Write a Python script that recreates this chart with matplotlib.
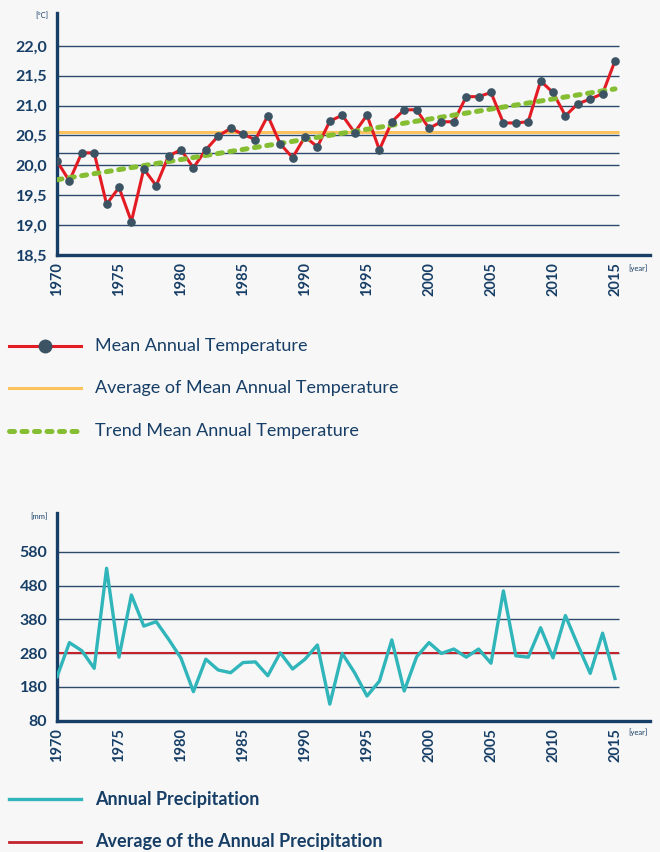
import matplotlib
matplotlib.use("Agg")
import matplotlib.pyplot as plt
from matplotlib.lines import Line2D
from matplotlib.ticker import FixedLocator, FuncFormatter

# ---------------- data ----------------
years = list(range(1970, 2016))
temp_mean = [20.07, 19.74, 20.21, 20.21, 19.35, 19.63, 19.06, 19.94, 19.66, 20.16,
             20.26, 19.96, 20.26, 20.49, 20.62, 20.52, 20.43, 20.83, 20.36, 20.13,
             20.48, 20.31, 20.74, 20.84, 20.55, 20.84, 20.26, 20.73, 20.93, 20.93,
             20.62, 20.73, 20.73, 21.15, 21.15, 21.22, 20.71, 20.71, 20.73, 21.41,
             21.22, 20.83, 21.03, 21.11, 21.20, 21.75]
temp_average = 20.56
trend_years = [1970, 2015]
trend_values = [19.76, 21.28]
temp_grid = [22.0, 21.5, 21.0, 20.5, 20.2, 20.0, 19.5, 19.0]
temp_ticks = [18.5, 19.0, 19.5, 20.0, 20.5, 21.0, 21.5, 22.0]

precip = [210, 311, 287, 235, 531, 268, 452, 360, 373, 321,
          265, 166, 262, 230, 222, 252, 254, 213, 281, 233,
          262, 304, 129, 279, 222, 153, 197, 319, 168, 269,
          311, 279, 292, 268, 292, 250, 464, 272, 268, 355,
          266, 391, 304, 220, 339, 205]
precip_average = 281
precip_ticks = [80, 180, 280, 380, 480, 580]
precip_grid = [180, 280, 380, 480, 580]

year_ticks = list(range(1970, 2016, 5))

legend_top = ["Mean Annual Temperature", "Average of Mean Annual Temperature",
              "Trend Mean Annual Temperature"]
legend_bottom = ["Annual Precipitation", "Average of the Annual Precipitation"]

# ---------------- style ----------------
NAVY = "#173e66"
GRID = "#2b4a6c"
RED = "#e31b23"
MARK = "#3b5363"
ORANGE = "#fbc25e"
GREEN = "#86be33"
TEAL = "#2fb5ba"
DRED = "#c2232d"
BG = "#f7f7f7"

FONT = "Lato"
plt.rcParams["font.family"] = [FONT, "DejaVu Sans"]

W, H = 660, 852
fig = plt.figure(figsize=(W / 100, H / 100), dpi=100, facecolor=BG)

PX_YEAR = 12.4
LEFT = 57
RIGHT = 650
x_max = 1970 + (RIGHT - LEFT) / PX_YEAR
grid_end = 2015.3
TREND_DASH = (1.0, 1.5)


def ax_rect(top, bottom):
    return [LEFT / W, 1 - bottom / H, (RIGHT - LEFT) / W, (bottom - top) / H]


def style_axes(ax, ticks, fmt):
    ax.set_facecolor("none")
    for s in ["top", "right"]:
        ax.spines[s].set_visible(False)
    for s in ["left", "bottom"]:
        ax.spines[s].set_color(NAVY)
        ax.spines[s].set_linewidth(2.4)
    ax.set_xlim(1970, x_max)
    ax.xaxis.set_major_locator(FixedLocator(year_ticks))
    ax.yaxis.set_major_locator(FixedLocator(ticks))
    ax.yaxis.set_major_formatter(FuncFormatter(fmt))
    ax.tick_params(axis="both", length=0, colors=NAVY)
    ax.tick_params(axis="y", pad=7, labelsize=11.5)
    ax.tick_params(axis="x", pad=5, labelsize=10.5, labelrotation=90)
    for lab in ax.get_xticklabels() + ax.get_yticklabels():
        lab.set_fontweight("bold")
        lab.set_color(NAVY)


# ---------------- top chart ----------------
ax1 = fig.add_axes(ax_rect(13, 255))
ax1.set_ylim(18.5, 22.0 + 33 / 60)
style_axes(ax1, temp_ticks, lambda v, p: f"{v:.1f}".replace(".", ","))
ax1.hlines(temp_grid, 1970, grid_end, color=GRID, lw=1.0, zorder=1)
ax1.hlines([temp_average], 1970, grid_end, color=ORANGE, lw=2.2, zorder=2)
ax1.plot(years, temp_mean, color=RED, lw=2.2, zorder=3, solid_joinstyle="miter")
ax1.plot(trend_years, trend_values, color=GREEN, lw=3.6, zorder=4,
         dashes=TREND_DASH, dash_capstyle="round")
ax1.plot(years, temp_mean, ls="none", marker="o", ms=5.2, color=MARK, zorder=5)

fig.text(48 / W, 1 - 16 / H, "[°C]", ha="right", va="center", fontsize=5.5, color=NAVY)
fig.text(628 / W, 1 - 268 / H, "[year]", ha="left", va="center", fontsize=5.5, color=NAVY)

# ---------------- bottom chart ----------------
ax2 = fig.add_axes(ax_rect(513, 720.7))
ax2.set_ylim(80, 80 + (720.7 - 513) / 0.338)
style_axes(ax2, precip_ticks, lambda v, p: f"{int(v)}")
ax2.hlines(precip_grid, 1970, grid_end, color=GRID, lw=1.0, zorder=1)
ax2.hlines([precip_average], 1970, grid_end, color=DRED, lw=1.5, zorder=2)
ax2.plot(years, precip, color=TEAL, lw=2.4, zorder=3)

fig.text(48 / W, 1 - 517 / H, "[mm]", ha="right", va="center", fontsize=5.5, color=NAVY)
fig.text(628 / W, 1 - 732 / H, "[year]", ha="left", va="center", fontsize=5.5, color=NAVY)


# ---------------- legends ----------------
def leg_line(y, **kw):
    fig.add_artist(Line2D([9 / W, 81 / W], [1 - y / H, 1 - y / H], transform=fig.transFigure, **kw))


def leg_text(y, s, weight="normal"):
    fig.text(95 / W, 1 - y / H, s, ha="left", va="center", fontsize=13, color=NAVY,
             fontweight=weight)


leg_line(346, color=RED, lw=2.2)
fig.add_artist(Line2D([45 / W], [1 - 346 / H], transform=fig.transFigure, marker="o",
                      ms=9, color=MARK, ls="none"))
leg_text(346, legend_top[0])
leg_line(388, color=ORANGE, lw=2.2)
leg_text(388, legend_top[1])
leg_line(431, color=GREEN, lw=3.6, dashes=TREND_DASH, dash_capstyle="round")
leg_text(431, legend_top[2])

leg_line(799, color=TEAL, lw=2.4)
leg_text(799, legend_bottom[0], weight="bold")
leg_line(841.5, color=DRED, lw=2.0)
leg_text(841.5, legend_bottom[1], weight="bold")

fig.savefig("out.png", dpi=100, facecolor=BG)
